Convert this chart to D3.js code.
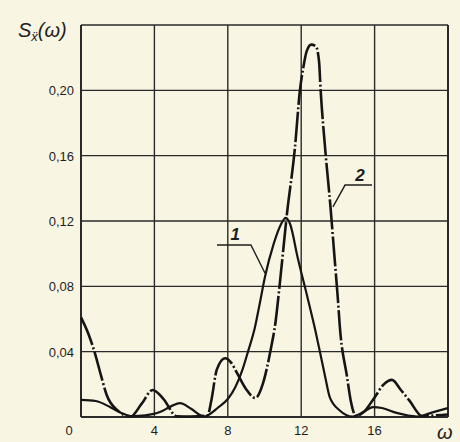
<!DOCTYPE html>
<html>
<head>
<meta charset="utf-8">
<script src="https://cdn.jsdelivr.net/npm/d3@7"></script>
<style>
  body { margin: 0; background: #f8f5e3; }
  svg { display: block; }
  text { font-family: 'Liberation Sans', Arial, sans-serif; fill: #1e1e1e; }
</style>
</head>
<body>
<div id="chart"></div>
<script>
// curve 1 (solid)
let omega1 = [0, 0.8, 1.6, 2.2, 2.8, 3.5, 4.3, 4.9, 5.4, 6.0, 6.7, 7.5, 8.0, 8.4, 8.8, 9.1, 9.48, 9.75, 10.03, 10.5, 10.9, 11.15, 11.4, 11.8, 12.37, 12.75, 13.0, 13.3, 13.56, 14.1, 14.8, 15.4, 15.9, 16.4, 17.2, 18.3, 19.2, 20]
let s1 = [0.0105, 0.0098, 0.006, 0.0025, 0.0005, 0.001, 0.003, 0.0065, 0.0085, 0.005, 0.0003, 0.006, 0.011, 0.018, 0.029, 0.04, 0.055, 0.07, 0.086, 0.106, 0.118, 0.122, 0.118, 0.098, 0.072, 0.054, 0.041, 0.025, 0.012, 0.004, 0.0003, 0.003, 0.006, 0.0055, 0.0025, 0.0003, 0.003, 0.0055]

// curve 2 (dash-dot)
let omega2 = [0, 0.4, 0.76, 1.1, 1.4, 2.0, 2.7, 3.3, 3.9, 4.5, 5.2, 6.0, 6.9, 7.1, 7.4, 7.85, 8.2, 8.5, 9.0, 9.5, 9.9, 10.35, 10.6, 10.8, 11.22, 11.66, 11.93, 12.1, 12.3, 12.55, 12.8, 12.97, 13.06, 13.3, 13.6, 13.8, 14.0, 14.1, 14.5, 14.7, 15.0, 15.4, 16.0, 16.5, 16.95, 17.4, 17.9, 18.6, 19.3, 20]
let s2 = [0.061, 0.051, 0.039, 0.025, 0.0135, 0.004, 0.0003, 0.008, 0.0165, 0.011, 0.0005, 0.0003, 0.001, 0.01, 0.029, 0.036, 0.033, 0.027, 0.017, 0.0116, 0.02, 0.042, 0.058, 0.078, 0.124, 0.165, 0.2, 0.213, 0.224, 0.228, 0.227, 0.218, 0.2, 0.165, 0.128, 0.1, 0.072, 0.056, 0.0245, 0.01, 0.0005, 0.003, 0.012, 0.02, 0.0227, 0.017, 0.01, 0.0005, 0.001, 0.0015]

let xTicks = [0, 4, 8, 12, 16]
let yTicks = [0.04, 0.08, 0.12, 0.16, 0.20]
let xGrid = [0, 4, 8, 12, 16, 20]
let yGrid = [0, 0.04, 0.08, 0.12, 0.16, 0.20, 0.24]

// annotation leaders, in data units
let leader1 = [[7.41, 0.1053], [9.26, 0.1053], [10.03, 0.088]]
let leader2 = [[13.73, 0.1286], [14.39, 0.142], [15.86, 0.142]]
let labels = [{ text: '1', x: 8.4, y: 0.1084 }, { text: '2', x: 15.2, y: 0.1445 }]

let margin = { top: 25, left: 81, right: 12, bottom: 25 }
let width = 460 - margin.left - margin.right
let height = 442 - margin.top - margin.bottom

let root = d3
  .select('#chart')
  .append('svg')
  .attr('width', 460)
  .attr('height', 442)

let svg = root
  .append('g')
  .attr('transform', 'translate(' + margin.left + ',' + margin.top + ')')

let x = d3.scaleLinear().domain([0, 20]).range([0, width])
let y = d3.scaleLinear().domain([0, 0.24]).range([height, 0])

// grid
svg
  .selectAll('.vgrid')
  .data(xGrid)
  .enter()
  .append('line')
  .attr('class', 'vgrid')
  .attr('x1', d => x(d))
  .attr('x2', d => x(d))
  .attr('y1', 0)
  .attr('y2', height)
  .attr('stroke', '#2a2a2a')
  .attr('stroke-width', d => (d === 0 || d === 20 ? 2 : 1.4))

svg
  .selectAll('.hgrid')
  .data(yGrid)
  .enter()
  .append('line')
  .attr('class', 'hgrid')
  .attr('x1', 0)
  .attr('x2', width)
  .attr('y1', d => y(d))
  .attr('y2', d => y(d))
  .attr('stroke', '#2a2a2a')
  .attr('stroke-width', d => (d === 0 ? 2.2 : 1.4))

// tick labels
svg
  .selectAll('.xlab')
  .data(xTicks)
  .enter()
  .append('text')
  .attr('class', 'xlab')
  .attr('x', d => (d === 0 ? x(d) - 12 : x(d)))
  .attr('y', height + 18)
  .attr('text-anchor', 'middle')
  .attr('font-size', 13)
  .text(d => d)

svg
  .selectAll('.ylab')
  .data(yTicks)
  .enter()
  .append('text')
  .attr('class', 'ylab')
  .attr('x', -7)
  .attr('y', d => y(d) + 5)
  .attr('text-anchor', 'end')
  .attr('font-size', 13)
  .text(d => d3.format('.2f')(d).replace('.', ','))

// curves
let line = d3
  .line()
  .x(d => x(d[0]))
  .y(d => y(d[1]))
  .curve(d3.curveMonotoneX)

svg
  .append('path')
  .datum(omega1.map((w, i) => [w, s1[i]]))
  .attr('d', line)
  .attr('fill', 'none')
  .attr('stroke', '#151515')
  .attr('stroke-width', 2.2)

svg
  .append('path')
  .datum(omega2.map((w, i) => [w, s2[i]]))
  .attr('d', line)
  .attr('fill', 'none')
  .attr('stroke', '#151515')
  .attr('stroke-width', 2.6)
  .attr('stroke-dasharray', '30,2.5,2,2.5')

// leaders and labels
let plain = d3.line().x(d => x(d[0])).y(d => y(d[1]))

svg
  .selectAll('.leader')
  .data([leader1, leader2])
  .enter()
  .append('path')
  .attr('class', 'leader')
  .attr('d', plain)
  .attr('fill', 'none')
  .attr('stroke', '#1e1e1e')
  .attr('stroke-width', 1.4)

svg
  .selectAll('.clab')
  .data(labels)
  .enter()
  .append('text')
  .attr('class', 'clab')
  .attr('x', d => x(d.x))
  .attr('y', d => y(d.y))
  .attr('text-anchor', 'middle')
  .attr('font-size', 17)
  .attr('font-weight', 'bold')
  .attr('font-style', 'italic')
  .text(d => d.text)

// axis titles
let yTitle = root
  .append('text')
  .attr('x', 18)
  .attr('y', 37)
  .attr('font-style', 'italic')
  .attr('font-size', 20)

yTitle.append('tspan').text('S')
yTitle.append('tspan').attr('font-size', 13).attr('dy', 4).text('ẍ')
yTitle.append('tspan').attr('dy', -4).text('(ω)')

root
  .append('text')
  .attr('x', 437)
  .attr('y', 439)
  .attr('font-style', 'italic')
  .attr('font-size', 20)
  .text('ω')
</script>
</body>
</html>
